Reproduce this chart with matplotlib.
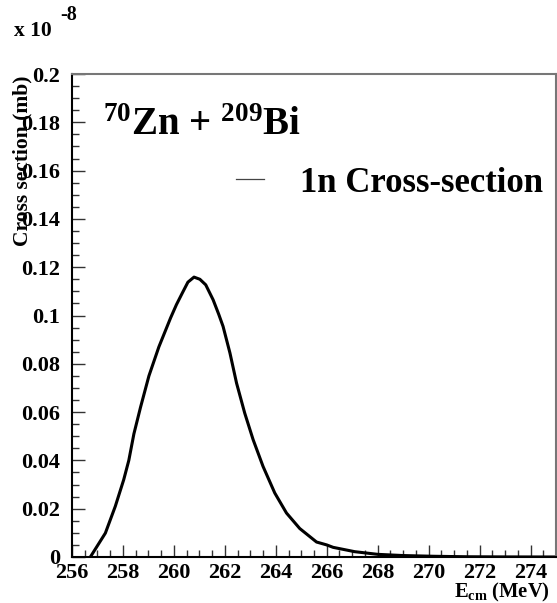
import matplotlib
matplotlib.use("Agg")
import matplotlib.pyplot as plt
from matplotlib.ticker import MultipleLocator, FixedLocator, FuncFormatter
from matplotlib.lines import Line2D

# Data (cross-section in units of 1e-8 mb)
energy = [256.72, 257.31, 257.70, 258.03, 258.23, 258.43, 258.69, 259.02, 259.41,
          259.87, 260.10, 260.33, 260.55, 260.79, 261.02, 261.25, 261.54, 261.76,
          261.93, 262.20, 262.46, 262.78, 263.11, 263.50, 263.96, 264.42, 264.94,
          265.60, 266.00, 266.25, 267.10, 268.00, 269.00, 270.20, 271.50, 273.00,
          275.00]
sigma_1n = [0.0, 0.0099, 0.021, 0.032, 0.040, 0.051, 0.062, 0.075, 0.087,
            0.099, 0.1045, 0.1093, 0.1138, 0.1159, 0.1150, 0.1127, 0.1065, 0.1005,
            0.0955, 0.0845, 0.072, 0.0596, 0.0486, 0.0375, 0.0265, 0.0182, 0.0118,
            0.0062, 0.0050, 0.0040, 0.0022, 0.0011, 0.0006, 0.0003, 0.0001, 0.00003,
            0.0]
x_ticks = [256, 258, 260, 262, 264, 266, 268, 270, 272, 274]
y_ticks = [0, 0.02, 0.04, 0.06, 0.08, 0.1, 0.12, 0.14, 0.16, 0.18, 0.2]

plt.rcParams['font.family'] = ['Liberation Serif', 'DejaVu Serif']
plt.rcParams['font.weight'] = 'bold'
plt.rcParams['mathtext.fontset'] = 'custom'
plt.rcParams['mathtext.rm'] = 'Liberation Serif:bold'
plt.rcParams['mathtext.it'] = 'Liberation Serif:bold:italic'
plt.rcParams['mathtext.bf'] = 'Liberation Serif:bold'

W, H = 557, 603
fig = plt.figure(figsize=(W / 100, H / 100), dpi=100)
ax = fig.add_axes([72 / W, 1 - 557 / H, (556 - 72) / W, (557 - 74) / H])

ax.plot(energy, sigma_1n, color='black', lw=2.2, solid_joinstyle='round')

ax.set_xlim(256, 275)
ax.set_ylim(0, 0.2)
ax.xaxis.set_major_locator(FixedLocator(x_ticks))
ax.xaxis.set_minor_locator(MultipleLocator(0.5))
ax.yaxis.set_major_locator(FixedLocator(y_ticks))
ax.yaxis.set_minor_locator(MultipleLocator(0.005))
ax.yaxis.set_major_formatter(FuncFormatter(lambda v, p: '0' if v == 0 else ('%g' % v)))

ax.tick_params(which='both', direction='in', top=False, right=False, width=1.0, color='#333333')
ax.tick_params(which='major', length=9, labelsize=16)
ax.tick_params(axis='x', which='major', pad=4)
ax.tick_params(axis='y', which='major', pad=8.5)
ax.tick_params(which='minor', length=5)
for lab in ax.get_xticklabels() + ax.get_yticklabels():
    lab.set_fontweight('bold')

for s in ['left', 'bottom']:
    ax.spines[s].set_linewidth(1.5)
    ax.spines[s].set_color('black')
for s in ['top', 'right']:
    ax.spines[s].set_linewidth(1.5)
    ax.spines[s].set_color('#777777')

# Exponent label
fig.text(14 / W, 1 - 36 / H, 'x 10', fontsize=15.5, fontweight='bold', ha='left', va='baseline')
fig.text(60 / W, 1 - 20 / H, '-8', fontsize=14.5, fontweight='bold', ha='left', va='baseline')

# Axis titles
fig.text(22 / W, 1 - 75 / H, 'Cross section (mb)', rotation=90, fontsize=15.5,
         fontweight='bold', ha='center', va='top')
fig.text(550 / W, 1 - 597 / H, r'E$_{\mathrm{cm}}$ (MeV)', fontsize=14.8,
         fontweight='bold', ha='right', va='baseline')

# Reaction title
fig.text(103 / W, 1 - 135 / H, r'$^{70}$Zn + $^{209}$Bi', fontsize=28,
         fontweight='bold', ha='left', va='baseline')

# Legend
h = Line2D([], [], color='#444444', lw=0.9)
fig.legend([h], ['1n Cross-section'], loc='center left',
           bbox_to_anchor=(236 / W, 1 - 183 / H), frameon=False,
           prop={'size': 25, 'weight': 'bold'}, handlelength=0.8,
           handletextpad=1.03, borderpad=0, borderaxespad=0)

fig.savefig('out.png', dpi=100, facecolor='white')
